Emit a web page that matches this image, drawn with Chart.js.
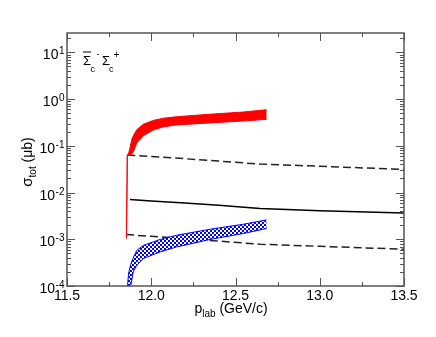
<!DOCTYPE html>
<html>
<head>
<meta charset="utf-8">
<script src="https://cdn.jsdelivr.net/npm/chart.js@4/dist/chart.umd.min.js"></script>
<style>
  body { margin: 0; background: #fff; }
  canvas { display: block; }
</style>
</head>
<body>
<canvas id="chart" width="436" height="337"></canvas>
<script>
// red band (upper / lower edge), incl. the thin vertical line at threshold
const redX  = [11.853, 11.858, 11.864, 11.874, 11.884, 11.894, 11.914, 11.953, 12.012, 12.072, 12.151, 12.349, 12.547, 12.685];
const redHi = [1.05e-3, 0.0634, 0.066, 0.09, 0.135, 0.165, 0.222, 0.29, 0.35, 0.39, 0.42, 0.475, 0.53, 0.593];
const redLo = [1.05e-3, 0.0634, 0.064, 0.065, 0.067, 0.075, 0.115, 0.165, 0.218, 0.255, 0.28, 0.31, 0.34, 0.369];

// blue hatched band
const blueX  = [11.859, 11.866, 11.878, 11.893, 11.914, 11.953, 12.052, 12.151, 12.349, 12.547, 12.685];
const blueHi = [1.0e-4, 1.9e-4, 2.9e-4, 4.0e-4, 5.8e-4, 7.4e-4, 9.9e-4, 1.22e-3, 1.64e-3, 2.1e-3, 2.6e-3];
const blueLo = [1.0e-4, 1.0e-4, 1.0e-4, 2.0e-4, 2.78e-4, 3.87e-4, 5.36e-4, 6.86e-4, 9.9e-4, 1.33e-3, 1.70e-3];

// black curves
const solidX = [11.874, 12.0, 12.2, 12.4, 12.646, 13.0, 13.5];
const solidY = [7.1e-3, 6.6e-3, 5.95e-3, 5.37e-3, 4.56e-3, 4.06e-3, 3.67e-3];
const dashHiX = [11.858, 12.0, 12.2, 12.4, 12.646, 13.0, 13.5];
const dashHiY = [0.0634, 0.0589, 0.053, 0.0471, 0.0407, 0.0365, 0.0313];
const dashLoX = [11.850, 12.0, 12.2, 12.4, 12.646, 13.0, 13.5];
const dashLoY = [1.26e-3, 1.16e-3, 1.03e-3, 9.16e-4, 7.83e-4, 7.06e-4, 6.12e-4];

// axes
const xTicks = [11.5, 12.0, 12.5, 13.0, 13.5];
const xTickLabels = ['11.5', '12.0', '12.5', '13.0', '13.5'];
const yExps = [-4, -3, -2, -1, 0, 1];

const FONT = '"Liberation Sans", Arial, sans-serif';

function pts(xs, ys) {
    return xs.map((x, i) => ({ x: x, y: ys[i] }));
}

// 2px checker pattern for the blue band
const pc = document.createElement('canvas');
pc.width = 4; pc.height = 4;
const pctx = pc.getContext('2d');
pctx.fillStyle = '#fff'; pctx.fillRect(0, 0, 4, 4);
pctx.fillStyle = '#0000ff'; pctx.fillRect(0, 0, 2, 2); pctx.fillRect(2, 2, 2, 2);

function supText(ctx, base, exp, xRight, y, size) {
    ctx.font = size + 'px ' + FONT;
    const wb = ctx.measureText(base).width;
    ctx.font = Math.round(size * 0.72) + 'px ' + FONT;
    const we = ctx.measureText(exp).width;
    const x0 = xRight - wb - we;
    ctx.font = size + 'px ' + FONT;
    ctx.fillText(base, x0, y);
    ctx.font = Math.round(size * 0.72) + 'px ' + FONT;
    ctx.fillText(exp, x0 + wb + 0.5, y - 5);
}

const framePlugin = {
    id: 'frame',
    afterDraw(chart) {
        const { ctx, chartArea: a, scales: { x, y } } = chart;
        ctx.save();
        ctx.strokeStyle = '#555';
        ctx.lineWidth = 1.5;
        ctx.strokeRect(a.left, a.top, a.right - a.left, a.bottom - a.top);

        ctx.lineWidth = 1;
        ctx.beginPath();
        // x ticks, top and bottom
        xTicks.forEach((v, i) => {
            const px = Math.round(x.getPixelForValue(v)) + 0.5;
            ctx.moveTo(px, a.bottom); ctx.lineTo(px, a.bottom - 8);
            ctx.moveTo(px, a.top); ctx.lineTo(px, a.top + 8);
            if (i < xTicks.length - 1) {
                const mx = Math.round(x.getPixelForValue((v + xTicks[i + 1]) / 2)) + 0.5;
                ctx.moveTo(mx, a.bottom); ctx.lineTo(mx, a.bottom - 4);
                ctx.moveTo(mx, a.top); ctx.lineTo(mx, a.top + 4);
            }
        });
        // y ticks, left and right
        yExps.forEach(e => {
            for (let m = 1; m <= 9; m++) {
                const v = m * Math.pow(10, e);
                if (v > y.max) break;
                const py = Math.round(y.getPixelForValue(v)) + 0.5;
                const len = m === 1 ? 8 : 4;
                ctx.moveTo(a.left, py); ctx.lineTo(a.left + len, py);
                ctx.moveTo(a.right, py); ctx.lineTo(a.right - len, py);
            }
        });
        ctx.stroke();

        ctx.fillStyle = '#000';
        ctx.textBaseline = 'alphabetic';
        // x tick labels
        ctx.font = '14px ' + FONT;
        ctx.textAlign = 'center';
        xTicks.forEach((v, i) => {
            ctx.fillText(xTickLabels[i], x.getPixelForValue(v), a.bottom + 14);
        });
        // y tick labels
        ctx.textAlign = 'left';
        yExps.forEach(e => {
            const py = y.getPixelForValue(Math.pow(10, e));
            supText(ctx, '10', String(e), a.left - 3, py + 7, 14);
        });

        // x title: p_lab (GeV/c)
        ctx.font = '14px ' + FONT;
        const wp = ctx.measureText('p').width;
        const wt = ctx.measureText(' (GeV/c)').width;
        ctx.font = '10px ' + FONT;
        const wl = ctx.measureText('lab').width;
        let sx = 231 - (wp + wl + wt) / 2;
        ctx.font = '14px ' + FONT;
        ctx.fillText('p', sx, 313);
        ctx.font = '10px ' + FONT;
        ctx.fillText('lab', sx + wp, 317);
        ctx.font = '14px ' + FONT;
        ctx.fillText(' (GeV/c)', sx + wp + wl, 313);

        // y title: sigma_tot (mub), rotated
        ctx.save();
        ctx.translate(32, 162);
        ctx.rotate(-Math.PI / 2);
        ctx.font = '15px ' + FONT;
        const ws = ctx.measureText('σ').width;
        ctx.font = '14px ' + FONT;
        const wu = ctx.measureText(' (μb)').width;
        ctx.font = '10px ' + FONT;
        const wtt = ctx.measureText('tot').width;
        let sy = -(ws + wtt + wu) / 2;
        ctx.font = '15px ' + FONT;
        ctx.fillText('σ', sy, 0);
        ctx.font = '10px ' + FONT;
        ctx.fillText('tot', sy + ws, 4);
        ctx.font = '14px ' + FONT;
        ctx.fillText(' (μb)', sy + ws + wtt, 0);
        ctx.restore();

        // reaction label
        ctx.font = '13px ' + FONT;
        ctx.fillText('Σ', 83, 65);
        const wS = ctx.measureText('Σ').width;
        ctx.fillRect(83, 51.5, wS, 1);
        ctx.fillText('Σ', 102, 65);
        ctx.font = '9px ' + FONT;
        ctx.fillText('c', 90.5, 72);
        ctx.fillText('c', 109, 72);
        ctx.fillText('-', 96.5, 57);
        ctx.font = '10px ' + FONT;
        ctx.fillText('+', 113.5, 57.5);
        ctx.restore();
    }
};

const ctx = document.getElementById('chart').getContext('2d');
const checker = ctx.createPattern(pc, 'repeat');

new Chart(ctx, {
    type: 'scatter',
    data: {
        datasets: [
            { data: pts(redX, redLo), showLine: true, borderColor: '#ff0000', borderWidth: 1, pointRadius: 0, fill: false },
            { data: pts(redX, redHi), showLine: true, borderColor: '#ff0000', borderWidth: 1, pointRadius: 0, fill: '-1', backgroundColor: '#ff0000' },
            { data: pts(blueX, blueLo), showLine: true, borderColor: '#0000ff', borderWidth: 1, pointRadius: 0, fill: false },
            { data: pts(blueX, blueHi), showLine: true, borderColor: '#0000ff', borderWidth: 1, pointRadius: 0, fill: '-1', backgroundColor: checker },
            { data: pts(solidX, solidY), showLine: true, borderColor: '#000', borderWidth: 1.5, pointRadius: 0 },
            { data: pts(dashHiX, dashHiY), showLine: true, borderColor: '#222', borderWidth: 1.5, borderDash: [8, 4], pointRadius: 0 },
            { data: pts(dashLoX, dashLoY), showLine: true, borderColor: '#222', borderWidth: 1.5, borderDash: [8, 4], pointRadius: 0 }
        ]
    },
    options: {
        responsive: false,
        animation: false,
        layout: { padding: { left: 67, top: 33, right: 32, bottom: 51 } },
        scales: {
            x: { type: 'linear', min: 11.5, max: 13.5, display: false },
            y: { type: 'logarithmic', min: 1e-4, max: 26, display: false }
        },
        plugins: {
            legend: { display: false },
            tooltip: { enabled: false }
        }
    },
    plugins: [framePlugin]
});
</script>
</body>
</html>
